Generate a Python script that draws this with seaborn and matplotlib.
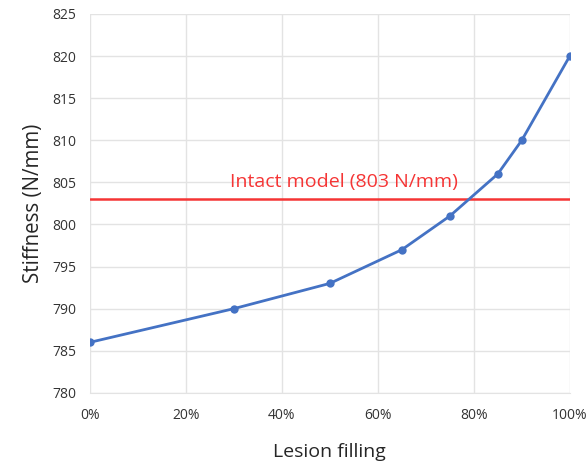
import matplotlib
matplotlib.use("Agg")
import matplotlib.pyplot as plt
import seaborn as sns
import pandas as pd
from matplotlib.ticker import PercentFormatter

# data
filling = [0, 30, 50, 65, 75, 85, 90, 100]
stiffness = [786, 790, 793, 797, 801, 806, 810, 820]
intact = 803
x_ticks = [0, 20, 40, 60, 80, 100]
y_ticks = [780, 785, 790, 795, 800, 805, 810, 815, 820, 825]

df = pd.DataFrame({"filling": filling, "stiffness": stiffness})

sns.set_style("white")
plt.rcParams["font.family"] = ["Open Sans", "DejaVu Sans"]

fig = plt.figure(figsize=(5.88, 4.66), dpi=100)
ax = fig.add_axes([0.153, 0.157, 0.816, 0.813])

ax.plot([0, 100], [intact, intact], color="#F53535", lw=1.8, zorder=2)
ax.text(53, 805, "Intact model (803 N/mm)", color="#F53535", fontsize=14,
        ha="center", va="center")

sns.lineplot(data=df, x="filling", y="stiffness", ax=ax, color="#4472C4",
             lw=2, marker="o", markersize=6, markeredgewidth=0, zorder=3)

ax.set_xlim(0, 100)
ax.set_ylim(780, 825)
ax.set_xticks(x_ticks)
ax.set_yticks(y_ticks)
ax.xaxis.set_major_formatter(PercentFormatter(decimals=0))
ax.grid(True, color="#E3E3E3", lw=1)
ax.set_axisbelow(True)
for s in ["top", "right", "left"]:
    ax.spines[s].set_visible(False)
ax.spines["bottom"].set_color("#E3E3E3")
ax.tick_params(axis="both", length=0, labelsize=10, colors="#333333", pad=10)
ax.tick_params(axis="x", pad=11)

ax.set_xlabel("Lesion filling", fontsize=14, labelpad=14)
ax.set_ylabel("Stiffness (N/mm)", fontsize=14.8, labelpad=6)

fig.savefig("out.png", dpi=100)
